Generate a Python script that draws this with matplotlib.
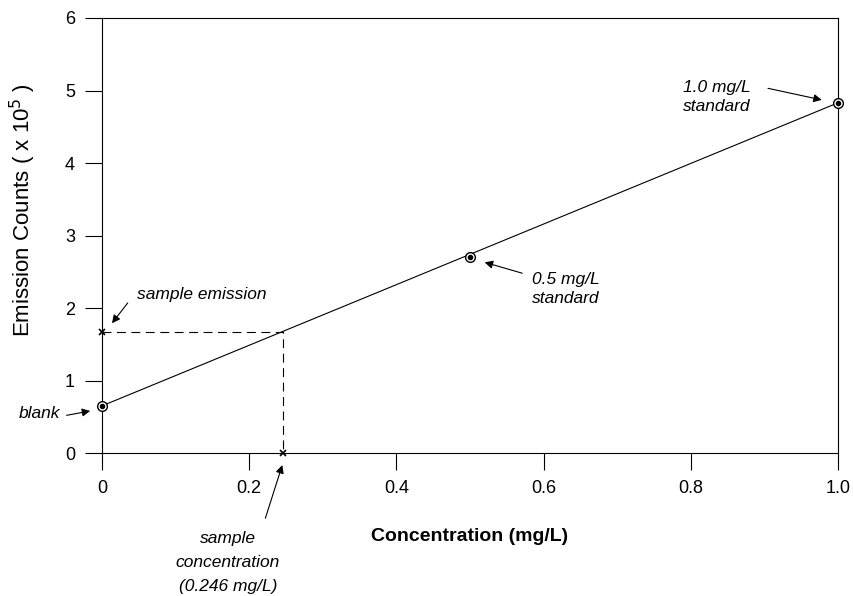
# calibration_curve.py

import numpy as np
import matplotlib
matplotlib.use("Agg")
import matplotlib.pyplot as plt

plt.rcParams['font.family'] = ['Liberation Sans', 'DejaVu Sans']

# standards (concentration in mg/L, emission counts x 10^5)
std_conc = [0.0, 0.5, 1.0]
std_counts = [0.65, 2.70, 4.83]

# calibration line end points
line_conc = [0.0, 1.0]
line_counts = [0.65, 4.83]

# sample
sample_conc = 0.246
sample_counts = 1.67

x_ticks = [0, 0.2, 0.4, 0.6, 0.8, 1.0]
x_tick_labels = ['0', '0.2', '0.4', '0.6', '0.8', '1.0']
y_ticks = [0, 1, 2, 3, 4, 5, 6]

fig = plt.figure(figsize=(8.54, 5.96), dpi=100)
ax = fig.add_axes([0.1194, 0.2399, 0.8618, 0.7299])

ax.plot(line_conc, line_counts, color='black', lw=0.8, zorder=2)

# dashed read-off lines
ax.plot([0, sample_conc, sample_conc], [sample_counts, sample_counts, 0],
        color='black', lw=0.8, ls=(0, (8, 5)), zorder=2)

ax.plot(std_conc, std_counts, ls='none', marker='o', ms=7, mfc='white',
        mec='black', mew=1.0, zorder=4, clip_on=False)
ax.plot(std_conc, std_counts, ls='none', marker='o', ms=3, color='black',
        zorder=5, clip_on=False)
ax.plot([0, sample_conc], [sample_counts, 0], ls='none', marker='x', ms=4,
        color='black', mew=1.2, zorder=5, clip_on=False)

ax.set_xlim(0, 1.0)
ax.set_ylim(0, 6)
ax.set_xticks(x_ticks)
ax.set_xticklabels(x_tick_labels)
ax.set_yticks(y_ticks)
ax.tick_params(direction='out', length=12.5, width=0.8, labelsize=13, pad=7)
for s in ax.spines.values():
    s.set_linewidth(0.8)

ax.set_ylabel('Emission Counts ( x 10$^{5}$ )', fontsize=16)
ax.yaxis.set_label_coords(-0.087, 0.559)
ax.set_xlabel('Concentration (mg/L)', fontsize=14, fontweight='bold',
              va='center')
ax.xaxis.set_label_coords(0.5, -0.191)

arrow = dict(arrowstyle='-|>', color='black', lw=0.8, mutation_scale=12,
             shrinkA=0, shrinkB=0)
font = dict(fontsize=12.5, style='italic')

ax.annotate('', xy=(0.0136, 1.79), xytext=(0.035, 2.07), arrowprops=arrow)
ax.text(0.048, 2.18, 'sample emission', ha='left', va='center', **font)

ax.annotate('', xy=(-0.016, 0.58), xytext=(-0.048, 0.52), arrowprops=arrow,
            annotation_clip=False)
ax.text(-0.057, 0.55, 'blank', ha='right', va='center', **font)

ax.annotate('', xy=(0.520, 2.63), xytext=(0.571, 2.48), arrowprops=arrow)
ax.text(0.584, 2.26, '0.5 mg/L\nstandard', ha='left', va='center',
        linespacing=1.35, **font)

ax.annotate('', xy=(0.978, 4.87), xytext=(0.905, 5.03), arrowprops=arrow)
ax.text(0.789, 4.91, '1.0 mg/L\nstandard', ha='left', va='center',
        linespacing=1.35, **font)

ax.annotate('', xy=(0.245, -0.166), xytext=(0.222, -0.90), arrowprops=arrow,
            annotation_clip=False)
ax.text(0.171, -1.08, 'sample\nconcentration\n(0.246 mg/L)', ha='center',
        va='top', ma='center', linespacing=1.75, **font)

fig.savefig('out.png', dpi=100)
